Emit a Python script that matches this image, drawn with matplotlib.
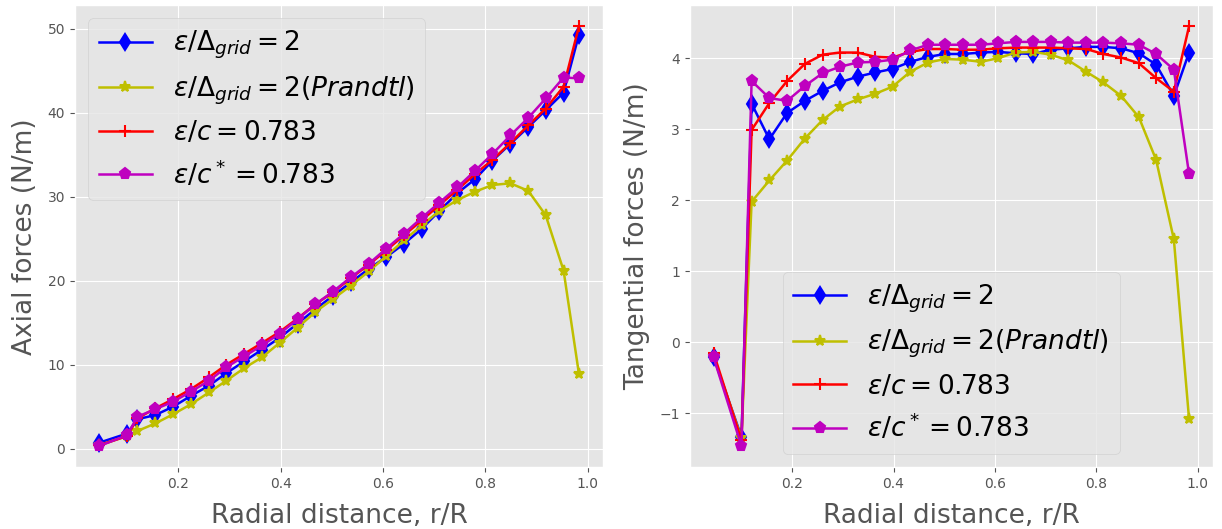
import matplotlib
matplotlib.use("Agg")
import matplotlib.pyplot as plt

r = [0.045, 0.1, 0.12, 0.155, 0.19, 0.225, 0.26, 0.294, 0.329, 0.364, 0.398,
     0.433, 0.468, 0.502, 0.537, 0.572, 0.606, 0.641, 0.676, 0.71, 0.745,
     0.78, 0.814, 0.849, 0.884, 0.918, 0.953, 0.983]

labels = [r'$\varepsilon/\Delta_{grid}=2$',
          r'$\varepsilon/\Delta_{grid}=2(Prandtl)$',
          r'$\varepsilon/c=0.783$',
          r'$\varepsilon/c^*=0.783$']

# Axial forces (N/m)
axial_grid = [0.7, 1.8, 3.5, 4.0, 5.0, 6.3, 7.5, 9.0, 10.4, 11.8, 13.2, 14.9, 16.6,
              18.2, 19.8, 21.4, 22.8, 24.4, 26.2, 28.3, 30.4, 32.1, 34.3, 36.3,
              38.3, 40.3, 42.4, 49.3]
axial_prandtl = [0.4, 1.5, 2.1, 3.0, 4.1, 5.3, 6.7, 8.1, 9.6, 10.9, 12.6, 14.4, 16.3,
                 17.8, 19.4, 21.1, 22.9, 24.8, 26.6, 28.3, 29.6, 30.6, 31.4, 31.6,
                 30.7, 27.8, 21.2, 8.9]
axial_c = [0.4, 1.5, 3.6, 4.8, 5.9, 7.1, 8.5, 10.0, 11.3, 12.6, 13.9, 15.5, 17.2,
           18.6, 20.3, 21.9, 23.6, 25.4, 27.2, 29.0, 30.8, 32.7, 34.4, 36.4, 38.5,
           40.5, 43.1, 50.3]
axial_cstar = [0.3, 1.6, 3.8, 4.7, 5.6, 6.8, 8.1, 9.7, 11.0, 12.3, 13.7, 15.4, 17.2,
               18.7, 20.4, 22.0, 23.8, 25.6, 27.5, 29.3, 31.1, 33.1, 35.1, 37.3,
               39.4, 41.7, 44.2, 44.1]

# Tangential forces (N/m)
tang_grid = [-0.21, -1.33, 3.36, 2.86, 3.23, 3.40, 3.54, 3.66, 3.74, 3.80, 3.85,
             3.95, 4.02, 4.06, 4.06, 4.08, 4.09, 4.07, 4.06, 4.12, 4.14, 4.16,
             4.16, 4.14, 4.07, 3.91, 3.47, 4.08]
tang_prandtl = [-0.20, -1.35, 1.98, 2.28, 2.56, 2.87, 3.13, 3.32, 3.42, 3.50, 3.60,
                3.81, 3.94, 3.99, 3.98, 3.95, 4.00, 4.08, 4.09, 4.05, 3.97, 3.81,
                3.66, 3.47, 3.17, 2.57, 1.45, -1.08]
tang_c = [-0.15, -1.38, 2.99, 3.37, 3.68, 3.92, 4.05, 4.08, 4.08, 4.02, 4.01, 4.09,
          4.13, 4.13, 4.12, 4.12, 4.14, 4.15, 4.15, 4.15, 4.14, 4.13, 4.06, 4.01,
          3.93, 3.72, 3.53, 4.45]
tang_cstar = [-0.21, -1.46, 3.68, 3.44, 3.40, 3.61, 3.79, 3.88, 3.94, 3.95, 3.98,
              4.11, 4.19, 4.19, 4.19, 4.19, 4.21, 4.23, 4.23, 4.23, 4.22, 4.22,
              4.22, 4.21, 4.19, 4.06, 3.84, 2.37]

plt.style.use('ggplot')

fig = plt.figure(figsize=(12.22, 5.29), dpi=100)
ax1 = fig.add_axes([0.0614, 0.117, 0.432, 0.873])
ax2 = fig.add_axes([0.5645, 0.117, 0.428, 0.873])

styles = [dict(color='b', marker='d'),
          dict(color='y', marker='*'),
          dict(color='r', marker='+'),
          dict(color='m', marker='p')]

for ax, series in ((ax1, [axial_grid, axial_prandtl, axial_c, axial_cstar]),
                   (ax2, [tang_grid, tang_prandtl, tang_c, tang_cstar])):
    for vals, st, lab in zip(series, styles, labels):
        ax.plot(r, vals, label=lab, linewidth=1.8, markersize=8,
                markeredgewidth=1.5, **st)
    ax.set_xlabel('Radial distance, r/R', fontsize=19, labelpad=9)
    ax.set_xticks([0.2, 0.4, 0.6, 0.8, 1.0])

ax1.set_ylabel('Axial forces (N/m)', fontsize=19, labelpad=7)
ax2.set_ylabel('Tangential forces (N/m)', fontsize=19, labelpad=7)

ax1.legend(loc='upper left', fontsize=19)
ax2.legend(loc='lower center', fontsize=19)

fig.savefig('out.png', dpi=100)
